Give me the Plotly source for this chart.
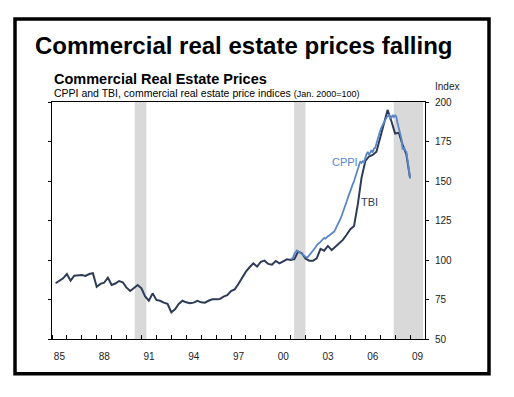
import plotly.graph_objects as go

# ---------------- data ----------------
tbi_start_year = 1985
tbi_values = [
    85.3, 86.7, 88.4, 91.1,      # 1985
    86.9, 90.1, 90.1, 90.5,      # 1986
    89.9, 91.1, 91.6, 83.1,      # 1987
    84.9, 85.6, 88.8, 84.2,      # 1988
    85.1, 86.7, 85.9, 82.5,      # 1989
    80.4, 82.5, 84.2, 82.1,      # 1990
    77.0, 74.2, 78.9, 74.7,      # 1991
    74.2, 73.0, 72.2, 66.9,      # 1992
    68.8, 72.2, 74.2, 73.2,      # 1993
    72.6, 73.0, 74.1, 73.2,      # 1994
    73.0, 74.2, 75.1, 75.1,      # 1995
    75.3, 76.8, 77.8, 80.4,      # 1996
    81.4, 84.8, 88.8, 92.6,      # 1997
    95.4, 97.9, 95.8, 98.9,      # 1998
    99.6, 97.5, 97.0, 99.4,      # 1999
    97.9, 98.9, 100.4, 100.0,    # 2000
    100.5, 105.3, 104.2, 100.8,  # 2001
    99.6, 99.6, 101.1, 107.0,    # 2002
    105.9, 108.9, 106.3, 108.4,  # 2003
    110.6, 112.7, 116.0, 119.5,  # 2004
    121.5, 135.0, 152.0, 162.5,  # 2005
    165.5, 166.5, 168.5, 178.0,  # 2006
    186.0, 195.0, 188.0, 180.0,  # 2007
    180.5, 173.0, 167.0, 152.0,  # 2008
]

cppi_start_year = 2001
cppi_values = [
    100.5, 101.0, 101.5, 104.0, 105.0, 106.0, 105.5, 105.0, 104.5, 104.0, 103.5, 103.0,  # 2001
    102.0, 101.5, 102.0, 103.0, 103.5, 104.5, 106.0, 107.0, 108.0, 109.5, 110.0, 111.0,  # 2002
    111.5, 112.5, 113.0, 114.0, 113.5, 114.5, 115.0, 115.5, 116.0, 116.5, 117.5, 118.0,  # 2003
    119.5, 121.0, 122.5, 124.0, 126.0, 128.0, 130.0, 132.0, 134.5, 137.0, 139.5, 142.0,  # 2004
    144.0, 146.0, 148.0, 150.0, 152.5, 155.0, 158.0, 160.5, 162.5, 161.5, 162.5, 162.0,  # 2005
    165.0, 167.0, 168.5, 166.5, 168.0, 169.5, 168.0, 170.5, 171.0, 174.0, 177.0, 179.5,  # 2006
    182.0, 184.0, 185.5, 187.5, 188.5, 190.0, 191.0, 192.0, 189.5, 190.0, 191.8, 190.5,  # 2007
    191.5, 190.5, 186.5, 183.0, 180.0, 177.0, 170.0, 171.5, 169.5, 168.5, 163.0, 157.0,  # 2008
    151.5,                                                                                # 2009
]

recessions = [
    ("1990-07-20", "1991-04-30"),
    ("2001-03-25", "2001-12-28"),
    ("2007-11-27", "2009-11-15"),
]

label_years = [1985, 1988, 1991, 1994, 1997, 2000, 2003, 2006, 2009]
label_text = ["85", "88", "91", "94", "97", "00", "03", "06", "09"]
y_ticks = [50, 75, 100, 125, 150, 175, 200]

# ---------------- dates ----------------
q_end = ["03-31", "06-30", "09-30", "12-31"]
tbi_dates = [f"{tbi_start_year + i // 4}-{q_end[i % 4]}" for i in range(len(tbi_values))]
cppi_dates = [f"{cppi_start_year + i // 12}-{i % 12 + 1:02d}-01" for i in range(len(cppi_values))]

FONT = "Liberation Sans, Arial, sans-serif"
TBI_C = "#2e3b57"
CPPI_C = "#5b86c6"

fig = go.Figure()
fig.add_trace(go.Scatter(x=tbi_dates, y=tbi_values, mode="lines",
                         line=dict(color=TBI_C, width=2), name="TBI"))
fig.add_trace(go.Scatter(x=cppi_dates, y=cppi_values, mode="lines",
                         line=dict(color=CPPI_C, width=1.8), name="CPPI"))

for a, b in recessions:
    fig.add_shape(type="rect", xref="x", yref="paper", x0=a, x1=b, y0=0, y1=1,
                  fillcolor="#d9d9d9", line_width=0, layer="below")

# outer black frame
fig.add_shape(type="rect", xref="paper", yref="paper",
              x0=-0.0992, x1=1.1716, y0=-0.1464, y1=1.3502,
              line=dict(color="black", width=3.5), fillcolor="rgba(0,0,0,0)")

fig.add_annotation(text="<b>Commercial real estate prices falling</b>",
                   xref="paper", yref="paper", x=0.5147, y=1.2405,
                   xanchor="center", yanchor="middle", showarrow=False,
                   font=dict(family=FONT, size=24, color="black"))
fig.add_annotation(text="<b>Commercial Real Estate Prices</b>",
                   xref="paper", yref="paper", x=0.0, y=1.097,
                   xanchor="left", yanchor="middle", showarrow=False,
                   font=dict(family=FONT, size=14.5, color="black"))
fig.add_annotation(text='CPPI and TBI, commercial real estate price indices <span style="font-size:9px">(Jan. 2000=100)</span>',
                   xref="paper", yref="paper", x=0.0, y=1.038,
                   xanchor="left", yanchor="middle", showarrow=False,
                   font=dict(family=FONT, size=10.5, color="black"))
fig.add_annotation(text="Index", xref="paper", yref="paper", x=1.0214, y=1.0633,
                   xanchor="left", yanchor="middle", showarrow=False,
                   font=dict(family=FONT, size=10, color="#222"))
fig.add_annotation(text="CPPI", xref="x", yref="y", x="2004-08-15", y=162.2,
                   showarrow=False, font=dict(family=FONT, size=11, color=CPPI_C))
fig.add_annotation(text="TBI", xref="x", yref="y", x="2006-04-10", y=136.5,
                   showarrow=False, font=dict(family=FONT, size=11, color=TBI_C))

fig.update_xaxes(
    type="date", range=["1985-01-01", "2010-01-01"],
    tickmode="array",
    tickvals=[f"{y}-07-02" for y in label_years], ticktext=label_text,
    ticks="", showgrid=False, zeroline=False,
    showline=True, linecolor="black", linewidth=1, mirror=True,
    tickfont=dict(family=FONT, size=10, color="#222"),
    ticklabelstandoff=8,
    minor=dict(tickmode="linear", tick0="1985-01-01", dtick="M12",
               ticks="inside", ticklen=4, tickcolor="black", showgrid=False),
)
fig.update_yaxes(
    range=[50, 200], tickmode="array", tickvals=y_ticks,
    side="right", ticks="outside", ticklen=3, tickcolor="black",
    showgrid=False, zeroline=False,
    showline=True, linecolor="black", linewidth=1, mirror="ticks",
    tickfont=dict(family=FONT, size=10, color="#222"),
    ticklabelstandoff=4,
)

fig.update_layout(
    width=514, height=397,
    margin=dict(l=52, r=89, t=102, b=58),
    paper_bgcolor="white", plot_bgcolor="white",
    showlegend=False,
)

fig.write_html("out.html", config={"displayModeBar": False},
               post_script="document.body.style.margin='0';")
